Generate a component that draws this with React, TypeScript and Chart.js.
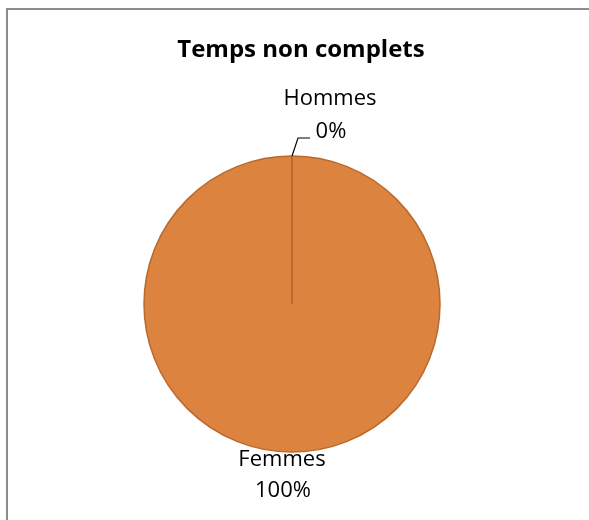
import React, { useEffect, useRef } from "react";
import { Chart, registerables } from "chart.js";

Chart.register(...registerables);

const chartTitle = "Temps non complets";
const categories = ["Hommes", "Femmes"];
const values = [0, 100];
const sliceColors = ["#4472C4", "#DC843F"];
const borderColor = "#B9692B";

const FONT = "'Open Sans', 'DejaVu Sans', sans-serif";

const decorPlugin = {
  id: "decor",
  afterDraw(chart: any) {
    const ctx = chart.ctx as CanvasRenderingContext2D;
    const meta = chart.getDatasetMeta(0);
    const total = values.reduce((a, b) => a + b, 0);
    ctx.save();
    // outer chart border (top & left visible)
    ctx.strokeStyle = "#8C8C8C";
    ctx.lineWidth = 2;
    ctx.beginPath();
    ctx.moveTo(7, 600);
    ctx.lineTo(7, 9);
    ctx.lineTo(600, 9);
    ctx.stroke();

    // title
    ctx.fillStyle = "#000";
    ctx.font = `bold 24px ${FONT}`;
    ctx.textAlign = "center";
    ctx.textBaseline = "alphabetic";
    ctx.fillText(chartTitle, 301, 57);

    // radial divider line
    const a0: any = meta.data[1];
    const cx = a0.x, cy = a0.y, r = a0.outerRadius;
    ctx.strokeStyle = borderColor;
    ctx.lineWidth = 1.5;
    ctx.beginPath();
    ctx.moveTo(cx, cy);
    ctx.lineTo(cx, cy - r);
    ctx.stroke();

    ctx.font = `22px ${FONT}`;
    ctx.fillStyle = "#000";
    meta.data.forEach((arc: any, i: number) => {
      const mid = (arc.startAngle + arc.endAngle) / 2;
      const px = arc.x + Math.cos(mid) * arc.outerRadius;
      const py = arc.y + Math.sin(mid) * arc.outerRadius;
      const pct = Math.round((values[i] / total) * 100) + "%";
      if (Math.sin(mid) < 0) {
        // top label with leader line
        ctx.strokeStyle = "#000";
        ctx.lineWidth = 1.2;
        ctx.beginPath();
        ctx.moveTo(px, py);
        ctx.lineTo(px + 6, py - 18);
        ctx.lineTo(px + 18, py - 18);
        ctx.stroke();
        ctx.fillText(categories[i], px + 38, py - 51);
        ctx.fillText(pct, px + 39, py - 18);
      } else {
        ctx.fillText(categories[i], px - 10, py + 14);
        ctx.fillText(pct, px - 9, py + 45);
      }
    });
    ctx.restore();
  },
};

export default function App() {
  const ref = useRef<HTMLCanvasElement>(null);
  useEffect(() => {
    if (!ref.current) return;
    const chart = new Chart(ref.current, {
      type: "pie",
      data: {
        labels: categories,
        datasets: [
          {
            data: values,
            backgroundColor: sliceColors,
            borderColor: borderColor,
            borderWidth: 1.5,
          },
        ],
      },
      options: {
        responsive: false,
        animation: false,
        radius: 148,
        layout: { padding: { left: 0, right: 5, top: 88, bottom: 0 } },
        plugins: {
          legend: { display: false },
          title: { display: false },
          tooltip: { enabled: false },
        },
      } as any,
      plugins: [decorPlugin],
    });
    return () => chart.destroy();
  }, []);
  return (
    <div style={{ position: "fixed", left: 0, top: 0, width: 589, height: 520, background: "#fff", overflow: "hidden" }}>
      <canvas ref={ref} width={589} height={520} style={{ display: "block" }} />
    </div>
  );
}
